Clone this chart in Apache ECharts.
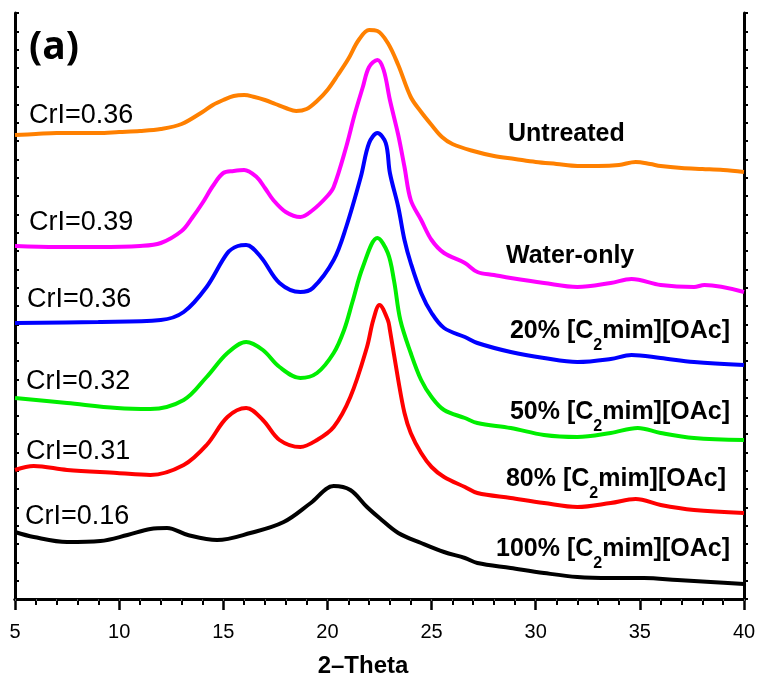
<!DOCTYPE html>
<html>
<head>
<meta charset="utf-8">
<script src="https://cdn.jsdelivr.net/npm/echarts@6/dist/echarts.min.js"></script>
<style>
  html, body { margin: 0; padding: 0; background: #fff; }
  #chart { width: 758px; height: 674px; }
</style>
</head>
<body>
<div id="chart"></div>
<script>
// XRD patterns (2-Theta vs. intensity, a.u., curves offset vertically)
const untreatedX = [5, 6, 7, 8, 9, 10, 11, 12, 13, 14, 14.5, 15, 15.5, 16, 16.5, 17, 17.5, 18, 18.5, 19, 19.5, 20, 20.5, 21, 21.5, 22, 22.4, 22.9, 23.4, 24, 24.5, 25, 25.5, 26, 27, 28, 29, 30, 31, 32, 33, 34, 34.8, 35.5, 36, 37, 38, 39, 40];
const untreatedY = [464, 465, 466, 466, 466, 467, 468, 470, 475, 487, 494, 499, 503, 504, 502, 499, 495, 491, 488, 490, 498, 509, 524, 540, 559, 569, 568, 556, 534, 502, 487, 474, 462, 455, 448, 443, 440, 437, 435, 433, 433, 434, 437, 435, 433, 431, 430, 429, 427];

const waterX = [5, 7, 9, 11, 12, 13, 13.5, 14, 14.5, 15, 15.5, 16, 16.6, 17, 17.4, 18, 18.7, 19.3, 20, 20.3, 20.9, 21.3, 21.7, 22, 22.4, 22.7, 23, 23.4, 23.7, 24, 24.5, 25, 25.6, 26.6, 27.2, 28, 28.8, 30.4, 32, 33.6, 34.6, 36, 37.6, 38.1, 40];
const waterY = [353, 352, 352, 353, 356, 368, 381, 396, 413, 426, 428, 429, 422, 411, 399, 387, 382, 389, 403, 412, 452, 484, 512, 532, 539, 529, 499, 464, 432, 399, 379, 359, 346, 336, 327, 324, 321, 316, 312, 316, 320, 314, 312, 314, 307];

const il20X = [5, 9, 12, 13.1, 14.2, 15.2, 15.7, 16.1, 16.8, 17.7, 18.7, 19.3, 20.3, 20.9, 21.6, 22, 22.4, 22.8, 23, 23.4, 23.7, 24, 24.5, 25, 25.6, 26.6, 27.2, 28.8, 30.4, 32, 33.6, 34.6, 36, 37.6, 40];
const il20Y = [276, 277, 279, 287, 312, 346, 353, 354, 342, 316, 307, 311, 339, 372, 422, 456, 466, 456, 426, 392, 359, 336, 306, 286, 271, 262, 256, 247, 241, 237, 240, 244, 241, 237, 234];

const il50X = [5, 7.5, 9.9, 11.5, 13.1, 14.2, 15.2, 16.1, 16.9, 17.7, 18.7, 19.5, 20.3, 20.8, 21.2, 21.7, 22.4, 22.9, 23.2, 23.5, 24, 24.5, 25, 25.6, 26.6, 27.2, 28.8, 30.4, 32, 33.6, 34.9, 36, 37.6, 40];
const il50Y = [201, 196, 191, 190, 199, 222, 246, 257, 249, 232, 221, 226, 246, 269, 297, 332, 361, 346, 318, 279, 246, 219, 202, 189, 181, 176, 171, 164, 162, 166, 171, 166, 161, 159];

const il80X = [5, 5.9, 7.5, 9.9, 11.5, 13.1, 14.2, 15.2, 16.1, 16.9, 17.7, 18.7, 19.5, 20.3, 21.1, 21.9, 22.2, 22.5, 22.9, 23, 23.4, 23.7, 24, 24.5, 25, 25.6, 26.6, 27.2, 28.8, 30.4, 32, 33.6, 34.8, 36, 37.6, 40];
const il80Y = [129, 133, 129, 126, 124, 134, 154, 182, 191, 179, 159, 152, 159, 172, 202, 252, 279, 294, 279, 269, 219, 186, 166, 146, 132, 122, 112, 106, 101, 96, 92, 96, 100, 94, 89, 86];

const il100X = [5, 5.9, 7.5, 9.1, 10.4, 11.5, 12.3, 13.3, 14.7, 16.3, 17.9, 19.2, 20.3, 21.1, 21.9, 22.5, 23.4, 24.5, 25.6, 26.6, 27.2, 28.8, 30.4, 32, 33.6, 35.2, 36.8, 38.4, 40];
const il100Y = [67, 62, 57, 58, 64, 70, 71, 64, 59, 66, 77, 96, 113, 109, 92, 81, 66, 56, 47, 41, 36, 31, 26, 22, 21, 21, 19, 17, 15];

const xTicks = [5, 10, 15, 20, 25, 30, 35, 40];
const crystallinity = ['CrI=0.36', 'CrI=0.39', 'CrI=0.36', 'CrI=0.32', 'CrI=0.31', 'CrI=0.16'];
const sampleNames = ['Untreated', 'Water-only', '20%', '50%', '80%', '100%'];

const pair = (xs, ys) => xs.map((x, i) => [x, ys[i]]);

const curves = [
  { name: sampleNames[0], x: untreatedX, y: untreatedY, color: '#FF8000' },
  { name: sampleNames[1], x: waterX, y: waterY, color: '#FF00FF' },
  { name: sampleNames[2], x: il20X, y: il20Y, color: '#0000FF' },
  { name: sampleNames[3], x: il50X, y: il50Y, color: '#00EE00' },
  { name: sampleNames[4], x: il80X, y: il80Y, color: '#FF0000' },
  { name: sampleNames[5], x: il100X, y: il100Y, color: '#000000' }
];

const chart = echarts.init(document.getElementById('chart'), null, { renderer: 'canvas' });

const yMax = 586;
const yStep = yMax / 32;
const frameLine = { show: true, lineStyle: { color: '#000', width: 3 } };

// CrI labels on the left, sample names on the right
const crIPos = [[29, 117], [29, 224], [27, 301], [26, 383], [26, 453], [25, 518]];
const leftLabels = crystallinity.map((t, i) => ({
  type: 'text', left: crIPos[i][0], top: crIPos[i][1] - 15,
  style: { text: t, font: '27px "Liberation Sans", Arial, sans-serif', fill: '#000' }
}));

const richIL = {
  b: { fontFamily: '"Liberation Sans", Arial, sans-serif', fontWeight: 'bold', fontSize: 25, color: '#000' },
  s: { fontFamily: '"Liberation Sans", Arial, sans-serif', fontWeight: 'bold', fontSize: 16, color: '#000', padding: [30, 0, 0, 0] }
};
const ilLabel = (pct, x, y) => ({
  type: 'text', x: x, y: y,
  style: {
    text: '{b|' + pct + ' [C}{s|2}{b|mim][OAc]}',
    rich: richIL, align: 'right', verticalAlign: 'middle'
  }
});
const plainBold = (t, x, y) => ({
  type: 'text', x: x, y: y,
  style: { text: t, font: 'bold 25px "Liberation Sans", Arial, sans-serif', fill: '#000', align: 'left', verticalAlign: 'middle' }
});

chart.setOption({
  animation: false,
  backgroundColor: '#fff',
  grid: { left: 15, right: 14, top: 13, bottom: 75, containLabel: false, outerBoundsMode: 'none' },
  xAxis: [
    {
      type: 'value', min: xTicks[0], max: xTicks[xTicks.length - 1], interval: 5, position: 'bottom',
      axisLine: frameLine,
      axisTick: { show: true, inside: false, length: 11, lineStyle: { color: '#000', width: 2.5 } },
      minorTick: { show: true, splitNumber: 5, length: 6, lineStyle: { color: '#000', width: 2 } },
      axisLabel: { color: '#000', fontSize: 20, margin: 23, fontFamily: '"Liberation Sans", Arial, sans-serif' },
      splitLine: { show: false },
      name: '2–Theta', nameLocation: 'middle', nameGap: 55,
      nameTextStyle: { color: '#000', fontSize: 24, fontWeight: 'bold', fontFamily: '"Liberation Sans", Arial, sans-serif', padding: [0, 33, 0, 0] }
    },
    {
      type: 'value', min: 5, max: 40, interval: 1, position: 'top',
      axisLine: frameLine,
      axisTick: { show: true, inside: true, length: 2, lineStyle: { color: '#666', width: 1 } },
      axisLabel: { show: false }, splitLine: { show: false }
    }
  ],
  yAxis: [
    {
      type: 'value', min: 0, max: yMax, interval: yStep, position: 'left',
      axisLine: frameLine,
      axisTick: { show: true, inside: true, length: 4, lineStyle: { color: '#000', width: 2 } },
      axisLabel: { show: false }, splitLine: { show: false }
    },
    {
      type: 'value', min: 0, max: yMax, interval: yStep, position: 'right',
      axisLine: frameLine,
      axisTick: { show: true, inside: false, length: 4, lineStyle: { color: '#000', width: 2 } },
      axisLabel: { show: false }, splitLine: { show: false }
    }
  ],
  series: curves.map(c => ({
    name: c.name, type: 'line', xAxisIndex: 0, yAxisIndex: 0,
    data: pair(c.x, c.y), smooth: 0.35, showSymbol: false, symbol: 'none',
    lineStyle: { color: c.color, width: 4 }, z: 3
  })),
  graphic: [
    { type: 'text', left: 29, top: 28, style: { text: '(a)', font: 'bold 39px "Open Sans", "Liberation Sans", sans-serif', fill: '#000' } },
    ...leftLabels,
    plainBold(sampleNames[0], 508, 134),
    plainBold(sampleNames[1], 506, 256),
    ilLabel(sampleNames[2], 730, 331),
    ilLabel(sampleNames[3], 730, 412),
    ilLabel(sampleNames[4], 726, 479),
    ilLabel(sampleNames[5], 730, 549)
  ]
});
</script>
</body>
</html>
